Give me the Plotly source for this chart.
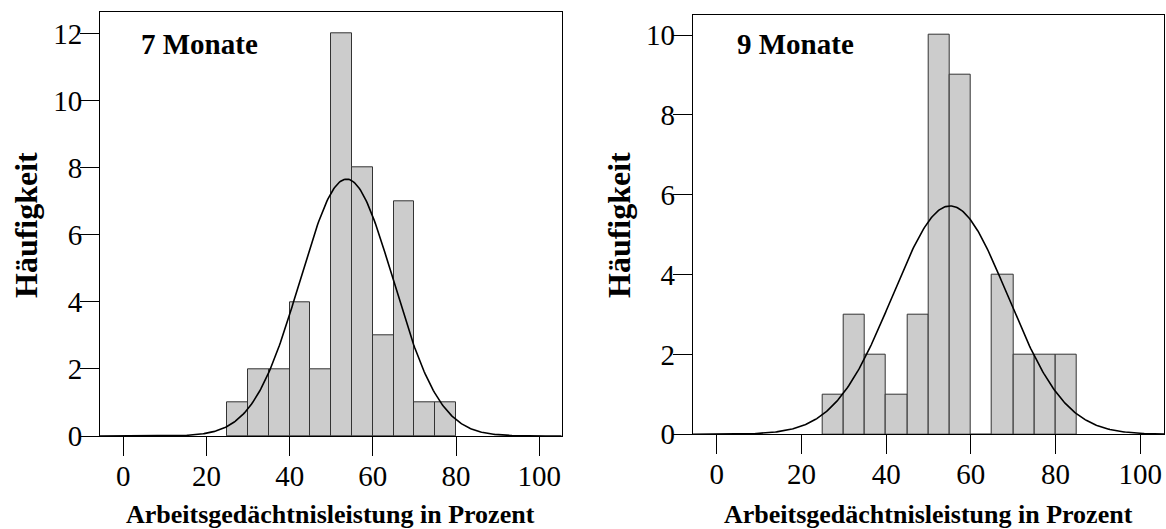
import numpy as np
import plotly.graph_objects as go

# ---- data ----
bin_width = 5
left_bin_starts = [25, 30, 35, 40, 45, 50, 55, 60, 65, 70, 75]
left_counts = [1, 2, 2, 4, 2, 12, 8, 3, 7, 1, 1]
left_mean, left_sd = 53.7, 11.2

right_bin_starts = [25, 30, 35, 40, 45, 50, 55, 60, 65, 70, 75, 80]
right_counts = [1, 3, 2, 1, 3, 10, 9, 0, 4, 2, 2, 2]
right_mean, right_sd = 55.1, 13.6

x_ticks = [0, 20, 40, 60, 80, 100]
left_y_ticks = [0, 2, 4, 6, 8, 10, 12]
right_y_ticks = [0, 2, 4, 6, 8, 10]
panel_titles = ["7 Monate", "9 Monate"]
x_title = "Arbeitsgedächtnisleistung in Prozent"
y_title = "Häufigkeit"

W, H = 1166, 529
FONT = "Liberation Serif, Times New Roman, serif"


def px_x(p):
    return p / W


def px_y(p):
    return 1 - p / H


def normal_curve(xr, mean, sd, n):
    xs = np.linspace(xr[0], xr[1], 400)
    ys = n * bin_width * np.exp(-0.5 * ((xs - mean) / sd) ** 2) / (sd * np.sqrt(2 * np.pi))
    return xs, ys


fig = go.Figure()

panels = [
    dict(starts=left_bin_starts, counts=left_counts, mean=left_mean, sd=left_sd,
         xr=[-5.6, 105.4], yr=[0, 12.63], yt=left_y_ticks,
         xdom=[100, 561.7], ydom=[436, 12.3], xa="x", ya="y",
         title_x=139.3, title_y=44, ytitle_x=26),
    dict(starts=right_bin_starts, counts=right_counts, mean=right_mean, sd=right_sd,
         xr=[-5.67, 105.67], yr=[0, 10.51], yt=right_y_ticks,
         xdom=[692.7, 1164.3], ydom=[434.3, 14.7], xa="x2", ya="y2",
         title_x=735, title_y=43.5, ytitle_x=619),
]

annotations = []
for i, p in enumerate(panels):
    centers = [s + bin_width / 2 for s in p["starts"]]
    fig.add_trace(go.Bar(
        x=centers, y=p["counts"], width=bin_width,
        marker=dict(color="#cccccc", line=dict(color="#333333", width=1)),
        xaxis=p["xa"], yaxis=p["ya"], showlegend=False, hoverinfo="skip"))
    xs, ys = normal_curve(p["xr"], p["mean"], p["sd"], sum(p["counts"]))
    fig.add_trace(go.Scatter(
        x=xs, y=ys, mode="lines", line=dict(color="black", width=1.6),
        xaxis=p["xa"], yaxis=p["ya"], showlegend=False, hoverinfo="skip"))

    suffix = "" if i == 0 else "2"
    axis_common = dict(showline=True, mirror=True, linecolor="black", linewidth=1,
                       ticks="outside", ticklen=19, tickwidth=1, tickcolor="black",
                       showgrid=False, zeroline=False, automargin=False,
                       tickfont=dict(family=FONT, size=29, color="black"))
    fig.update_layout(**{
        "xaxis" + suffix: dict(range=p["xr"], tickvals=x_ticks,
                               domain=[px_x(p["xdom"][0]), px_x(p["xdom"][1])],
                               anchor="y" + suffix, ticklabelstandoff=-5, **axis_common),
        "yaxis" + suffix: dict(range=p["yr"], tickvals=p["yt"],
                               domain=[px_y(p["ydom"][0]), px_y(p["ydom"][1])],
                               anchor="x" + suffix, ticklabelstandoff=-8, **axis_common),
    })

    annotations.append(dict(text="<b>%s</b>" % panel_titles[i], xref="paper", yref="paper",
                            x=px_x(p["title_x"]), y=px_y(p["title_y"]),
                            xanchor="left", yanchor="middle", showarrow=False,
                            font=dict(family=FONT, size=29, color="black")))
    annotations.append(dict(text="<b>%s</b>" % x_title, xref="paper", yref="paper",
                            x=px_x((p["xdom"][0] + p["xdom"][1]) / 2), y=px_y(514),
                            xanchor="center", yanchor="middle", showarrow=False,
                            font=dict(family=FONT, size=26, color="black")))
    annotations.append(dict(text="<b>%s</b>" % y_title, xref="paper", yref="paper",
                            x=px_x(p["ytitle_x"]), y=px_y(225), textangle=-90,
                            xanchor="center", yanchor="middle", showarrow=False,
                            font=dict(family=FONT, size=32, color="black")))

fig.update_layout(
    template="none",
    width=W, height=H, autosize=False,
    margin=dict(l=0, r=0, t=0, b=0, pad=0),
    paper_bgcolor="white", plot_bgcolor="white",
    bargap=0, annotations=annotations,
    font=dict(family=FONT, color="black"),
)

fig.write_html("out.html")
